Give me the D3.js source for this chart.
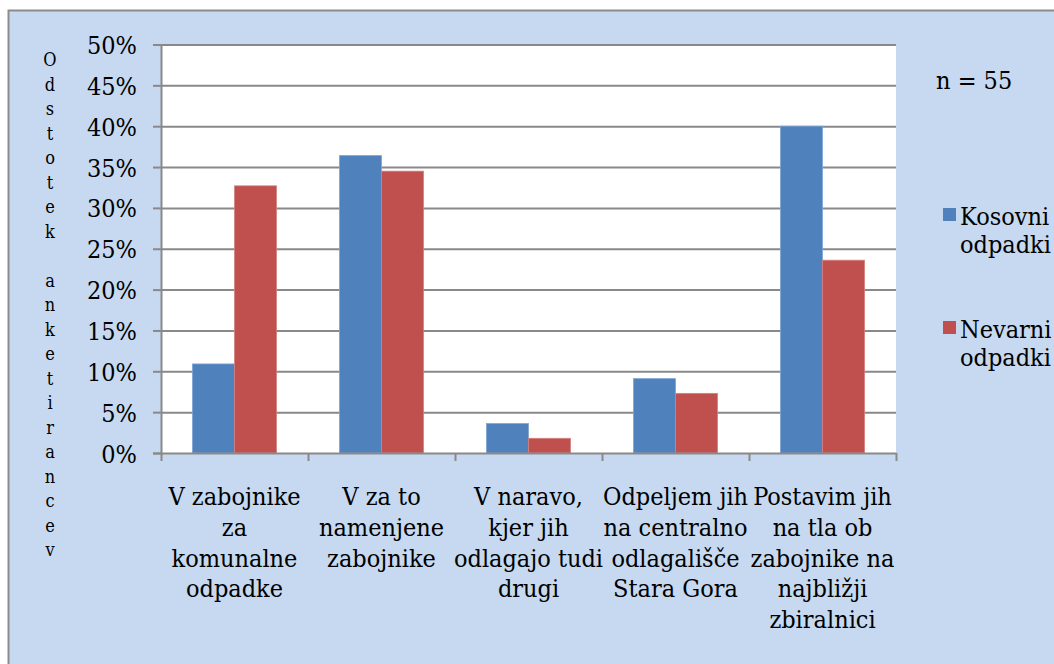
<!DOCTYPE html>
<html>
<head>
<meta charset="utf-8">
<script src="https://cdn.jsdelivr.net/npm/d3@7"></script>
<style>
  body { margin: 0; background: #fff; }
  svg text { font-stretch: condensed; }
</style>
</head>
<body>
<div id="chart"></div>
<script>
// chart data
var categories = [
    ["V zabojnike", "za", "komunalne", "odpadke"],
    ["V za to", "namenjene", "zabojnike"],
    ["V naravo,", "kjer jih", "odlagajo tudi", "drugi"],
    ["Odpeljem jih", "na centralno", "odlagališče", "Stara Gora"],
    ["Postavim jih", "na tla ob", "zabojnike na", "najbližji", "zbiralnici"]
];
var seriesNames = ["Kosovni odpadki", "Nevarni odpadki"];
var kosovni = [0.109, 0.364, 0.036, 0.091, 0.400];
var nevarni = [0.327, 0.345, 0.018, 0.073, 0.236];
var yTicks = [0, 0.05, 0.10, 0.15, 0.20, 0.25, 0.30, 0.35, 0.40, 0.45, 0.50];
var yTitle = "Odstotek anketirancev";
var note = "n = 55";

var colors = ["#4f81bd", "#c0504d"];
var serif = "'DejaVu Serif Condensed', 'DejaVu Serif', serif";
var fs = 25;
var svgWidth = 1054, svgHeight = 664;
var plot = { left: 161, right: 896, top: 44.5, bottom: 453 };

var svg = d3.select("#chart").append("svg")
    .attr("width", svgWidth)
    .attr("height", svgHeight)
    .style("font-family", serif);

// chart background with border
svg.append("rect")
    .attr("x", 8.5).attr("y", 10.5)
    .attr("width", svgWidth + 10).attr("height", svgHeight + 10)
    .attr("fill", "#c6d9f0")
    .attr("stroke", "#8c8c8c")
    .attr("stroke-width", 2);

svg.append("rect")
    .attr("x", plot.left).attr("y", plot.top)
    .attr("width", plot.right - plot.left)
    .attr("height", plot.bottom - plot.top)
    .attr("fill", "#fff");

var x0 = d3.scaleBand()
    .domain(d3.range(categories.length))
    .range([plot.left, plot.right]);

var x1 = d3.scaleBand()
    .domain(seriesNames)
    .range([x0.bandwidth() * 0.2143, x0.bandwidth() * 0.7857]);

var y = d3.scaleLinear()
    .domain([0, 0.5])
    .range([plot.bottom, plot.top]);

// gridlines
svg.append("g")
    .attr("transform", `translate(${plot.left},0)`)
    .call(d3.axisLeft(y).tickValues(yTicks.slice(1)).tickSize(-(plot.right - plot.left)).tickFormat(""))
    .call(g => g.select(".domain").remove())
    .call(g => g.selectAll("line").attr("stroke", "#898989").attr("stroke-width", 2));

// bars
var rows = categories.map((c, i) => ({ i: i, vals: [kosovni[i], nevarni[i]] }));
var groups = svg.append("g").selectAll("g")
    .data(rows)
    .enter()
    .append("g")
    .attr("transform", d => `translate(${x0(d.i)},0)`);

groups.selectAll("rect")
    .data(d => d.vals.map((v, k) => ({ key: seriesNames[k], v: v, k: k })))
    .enter()
    .append("rect")
    .attr("x", d => x1(d.key))
    .attr("y", d => y(d.v))
    .attr("width", x1.bandwidth())
    .attr("height", d => y(0) - y(d.v))
    .attr("fill", d => colors[d.k])
    .attr("stroke", d => d.k === 0 ? "#7ea3d4" : "#d4807e")
    .attr("stroke-width", 0.8);

// y axis
var yAxis = svg.append("g")
    .attr("transform", `translate(${plot.left},0)`)
    .call(d3.axisLeft(y).tickValues(yTicks).tickSize(8).tickPadding(16).tickFormat(d3.format(".0%")));
yAxis.attr("font-family", null);
yAxis.select(".domain").attr("stroke", "#898989").attr("stroke-width", 2);
yAxis.selectAll("line").attr("stroke", "#898989").attr("stroke-width", 2);
yAxis.selectAll("text")
    .attr("font-size", fs)
    .attr("dy", 9)
    .attr("fill", "#000");

// x axis with ticks on category boundaries
var xb = d3.scaleLinear().domain([0, categories.length]).range([plot.left, plot.right]);
var xAxis = svg.append("g")
    .attr("transform", `translate(0,${plot.bottom})`)
    .call(d3.axisBottom(xb).tickValues(d3.range(categories.length + 1)).tickSize(8).tickSizeOuter(0).tickFormat(""));
xAxis.select(".domain").attr("stroke", "#898989").attr("stroke-width", 2);
xAxis.selectAll("line").attr("stroke", "#898989").attr("stroke-width", 2);

// category labels
var labels = svg.append("g").selectAll("text")
    .data(categories)
    .enter()
    .append("text")
    .attr("text-anchor", "middle")
    .attr("font-size", fs)
    .attr("x", (d, i) => x0(i) + x0.bandwidth() / 2)
    .attr("y", 505);
labels.selectAll("tspan")
    .data(d => d)
    .enter()
    .append("tspan")
    .attr("x", function () { return d3.select(this.parentNode).attr("x"); })
    .attr("y", (d, j) => 505 + j * 30.8)
    .text(d => d);

// y axis title, one letter per line
svg.append("g").selectAll("text")
    .data(yTitle.split(""))
    .enter()
    .append("text")
    .attr("x", 50)
    .attr("y", (d, i) => 66 + i * 24.5)
    .attr("text-anchor", "middle")
    .attr("font-size", 18)
    .text(d => d);

// n note
svg.append("text")
    .attr("x", 936).attr("y", 89)
    .attr("font-size", fs)
    .text(note);

// legend
var legendY = [208, 321];
seriesNames.forEach(function (name, k) {
    svg.append("rect")
        .attr("x", 943).attr("y", legendY[k])
        .attr("width", 13).attr("height", 13)
        .attr("fill", colors[k]);
    var parts = name.split(" ");
    parts.forEach(function (p, j) {
        svg.append("text")
            .attr("x", 960)
            .attr("y", legendY[k] + 17 + j * 28)
            .attr("font-size", fs)
            .text(p);
    });
});
</script>
</body>
</html>
